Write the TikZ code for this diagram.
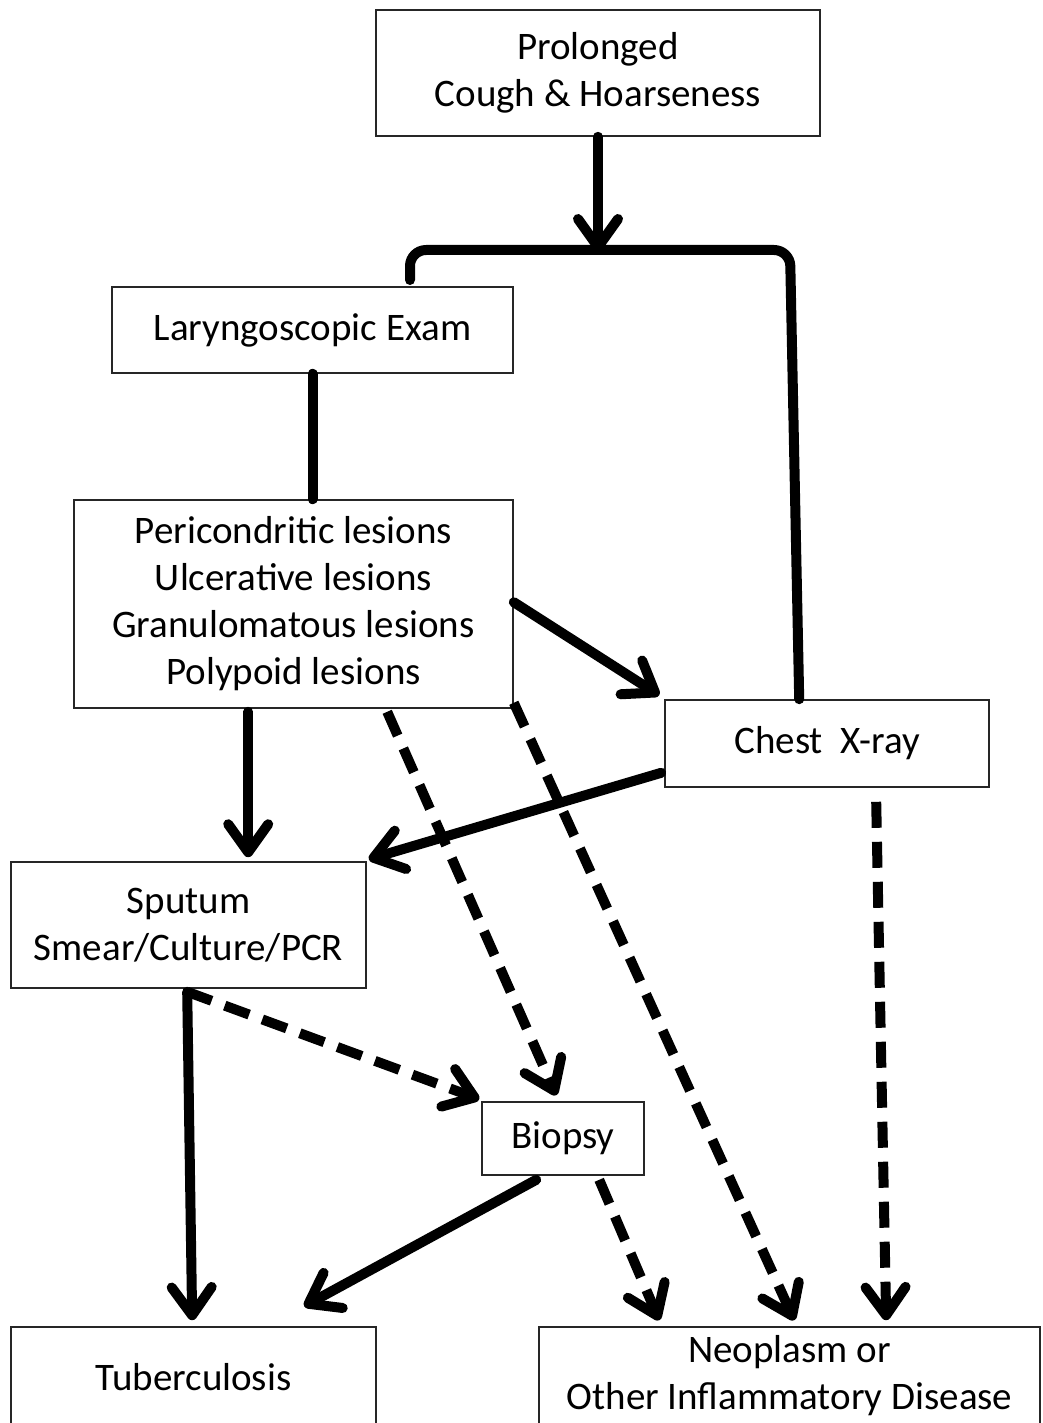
\documentclass[tikz,border=0pt]{standalone}
\usepackage{fontspec}
\setmainfont{Carlito}
\usetikzlibrary{arrows.meta,calc}
\begin{document}
\begin{tikzpicture}[x=1pt,y=-1pt,
  box/.style={draw=black!85, line width=1.6pt, fill=white, align=center, inner sep=0pt,
    font=\fontsize{39}{47}\selectfont},
  conn/.style={line width=10pt, line cap=round, line join=round},
  tip/.style={-{Straight Barb[length=28pt,width=40pt,round]}},
  arr/.style={conn, tip},
  dsh/.style={arr, dash pattern=on 26pt off 14pt, line cap=butt}
]
\useasboundingbox (0,0) rectangle (1043,1423);
\fill[white] (0,0) rectangle (1043,1423);
\node[box, minimum width=444pt, minimum height=126pt] (pro) at (598,73) {Prolonged\\Cough \& Hoarseness};
\node[box, minimum width=401pt, minimum height=86pt] (lar) at (312.5,330) {Laryngoscopic Exam};
\node[box, minimum width=439pt, minimum height=208pt] (les) at (293.5,604) {Pericondritic lesions\\Ulcerative lesions\\Granulomatous lesions\\Polypoid lesions};
\node[box, minimum width=324pt, minimum height=87pt] (che) at (827,743.5) {Chest\ \ X-ray};
\node[box, minimum width=355pt, minimum height=126pt] (spu) at (188.5,925) {Sputum\\Smear/Culture/PCR};
\node[box, minimum width=162pt, minimum height=73pt] (bio) at (563,1138.5) {Biopsy};
\node[box, minimum width=365pt, minimum height=113pt] (tub) at (193.5,1383.5) {};
\node[anchor=center, inner sep=0pt, font=\fontsize{39}{47}\selectfont] (tubt) at (193.5,1377) {Tuberculosis};
\node[box, minimum width=501pt, minimum height=113pt] (neo) at (789.5,1383.5) {};
\node[anchor=center, inner sep=0pt, align=center, font=\fontsize{39}{47}\selectfont] (neot) at (789.5,1376) {Neoplasm or\\Other Inflammatory Disease};

\coordinate (j) at (598,252);
\coordinate (bl) at (410,280);
\coordinate (br) at ($(che.north west)+(135,0)$);
\draw[arr] (pro.south) -- (j);
\draw[conn, rounded corners=16pt] (bl) -- (410,250) -- (790,250) -- (br);
\draw[conn] (lar.south) -- (les.north -| lar.south);
\draw[arr] ($(les.north east)+(0,103)$) -- ($(che.north west)+(-5,-4)$);
\draw[arr] ($(les.south west)+(175,3)$) -- ($(spu.north west)+(238,-4)$);
\draw[arr] ($(che.south west)+(-3,-15)$) -- ($(spu.north east)+(2,-2)$);
\draw[dsh] ($(les.south west)+(314,3)$) -- ($(bio.north west)+(75,-6)$);
\draw[dsh] ($(les.south east)+(0,-6)$) -- ($(neo.north west)+(256,-6)$);
\draw[dsh] ($(che.south west)+(212,14)$) -- ($(neo.north west)+(348,-6)$);
\draw[conn, tip] ($(spu.south west)+(177,3)$) -- ($(tub.north west)+(182,-6)$);
\draw[dsh] ($(spu.south west)+(177,3)$) -- ($(bio.north west)+(-2,-2)$);
\draw[arr] ($(bio.south west)+(55,4)$) -- ($(tub.north west)+(294,-20)$);
\draw[dsh] ($(bio.south west)+(118,4)$) -- ($(neo.north west)+(121,-6)$);
\end{tikzpicture}
\end{document}
